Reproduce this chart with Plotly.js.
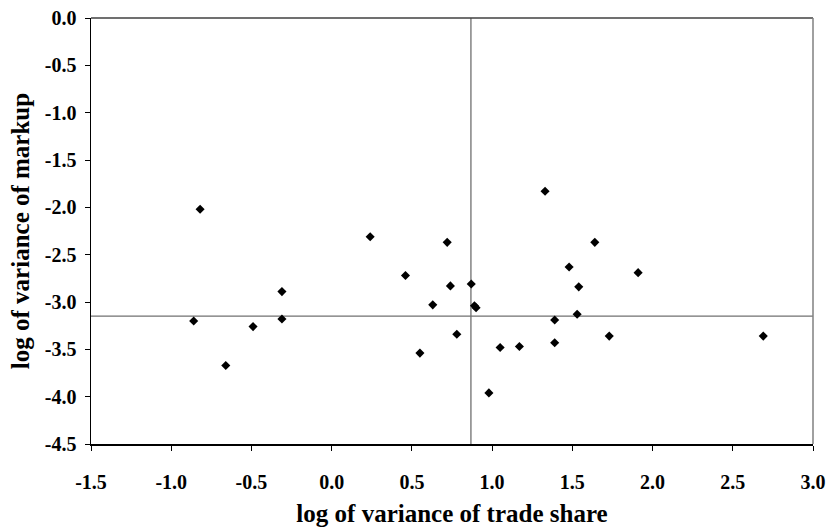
<!DOCTYPE html>
<html>
<head>
<meta charset="utf-8">
<script src="https://cdn.plot.ly/plotly-3.0.1.min.js"></script>
<style>html,body{margin:0;padding:0;background:#fff;}#chart{width:828px;height:529px;}</style>
</head>
<body>
<div id="chart"></div>
<script>
// Data
const tradeShareVar = [-0.82, -0.86, -0.66, -0.49, -0.31, -0.31, 0.24, 0.72, 0.46, 0.74, 0.87, 0.63, 0.89, 0.90, 0.78, 0.55, 0.98, 1.05, 1.17, 1.33, 1.64, 1.48, 1.91, 1.54, 1.53, 1.39, 1.39, 1.73, 2.69];
const markupVar     = [-2.02, -3.20, -3.67, -3.26, -2.89, -3.18, -2.31, -2.37, -2.72, -2.83, -2.81, -3.03, -3.04, -3.06, -3.34, -3.54, -3.96, -3.48, -3.47, -1.83, -2.37, -2.63, -2.69, -2.84, -3.13, -3.19, -3.43, -3.36, -3.36];
const refLineX = 0.868;   // vertical reference line
const refLineY = -3.15;   // horizontal reference line
const xTickVals = [-1.5, -1.0, -0.5, 0.0, 0.5, 1.0, 1.5, 2.0, 2.5, 3.0];
const xTickText = ["-1.5", "-1.0", "-0.5", "0.0", "0.5", "1.0", "1.5", "2.0", "2.5", "3.0"];
const yTickVals = [0.0, -0.5, -1.0, -1.5, -2.0, -2.5, -3.0, -3.5, -4.0, -4.5];
const yTickText = ["0.0", "-0.5", "-1.0", "-1.5", "-2.0", "-2.5", "-3.0", "-3.5", "-4.0", "-4.5"];
const xTitle = "log of variance of trade share";
const yTitle = "log of variance of markup";

const font = "Liberation Serif, Times New Roman, serif";
const bold = s => "<b>" + s + "</b>";

const traces = [{
  type: "scatter",
  mode: "markers",
  x: tradeShareVar,
  y: markupVar,
  marker: {symbol: "diamond", size: 7, color: "#000000", line: {width: 0}},
  hoverinfo: "x+y",
  showlegend: false
}];

const layout = {
  width: 828,
  height: 529,
  margin: {l: 91, r: 15, t: 18, b: 85, pad: 0},
  paper_bgcolor: "#ffffff",
  plot_bgcolor: "#ffffff",
  font: {family: font, color: "#000000"},
  showlegend: false,
  xaxis: {
    range: [-1.5, 3.0],
    tickvals: xTickVals,
    ticktext: xTickText.map(bold),
    showgrid: false,
    zeroline: false,
    showline: true,
    linecolor: "#000000",
    linewidth: 1.5,
    ticks: "outside",
    ticklen: 5,
    tickwidth: 1,
    tickcolor: "#000000",
    ticklabelstandoff: 14,
    tickfont: {family: font, size: 20, color: "#000000"},
    title: {text: bold(xTitle), font: {family: font, size: 25, color: "#000000"}, standoff: 13},
    automargin: false
  },
  yaxis: {
    range: [-4.5, 0.0],
    tickvals: yTickVals,
    ticktext: yTickText.map(bold),
    showgrid: false,
    zeroline: false,
    showline: true,
    linecolor: "#000000",
    linewidth: 1.5,
    ticks: "outside",
    ticklen: 5,
    tickwidth: 1,
    tickcolor: "#000000",
    ticklabelstandoff: 4,
    tickfont: {family: font, size: 20, color: "#000000"},
    title: {text: bold(yTitle), font: {family: font, size: 25, color: "#000000"}, standoff: 8},
    automargin: false
  },
  shapes: [
    {type: "line", xref: "paper", yref: "paper", x0: 0, x1: 1, y0: 1, y1: 1, line: {color: "#404040", width: 1.5}},
    {type: "line", xref: "paper", yref: "paper", x0: 1, x1: 1, y0: 0, y1: 1, line: {color: "#808080", width: 1.5}},
    {type: "line", xref: "x", yref: "paper", x0: refLineX, x1: refLineX, y0: 0, y1: 1, line: {color: "#707070", width: 1.3}, layer: "below"},
    {type: "line", xref: "paper", yref: "y", x0: 0, x1: 1, y0: refLineY, y1: refLineY, line: {color: "#707070", width: 1.3}, layer: "below"}
  ]
};

Plotly.newPlot("chart", traces, layout, {staticPlot: true, displayModeBar: false});
</script>
</body>
</html>
